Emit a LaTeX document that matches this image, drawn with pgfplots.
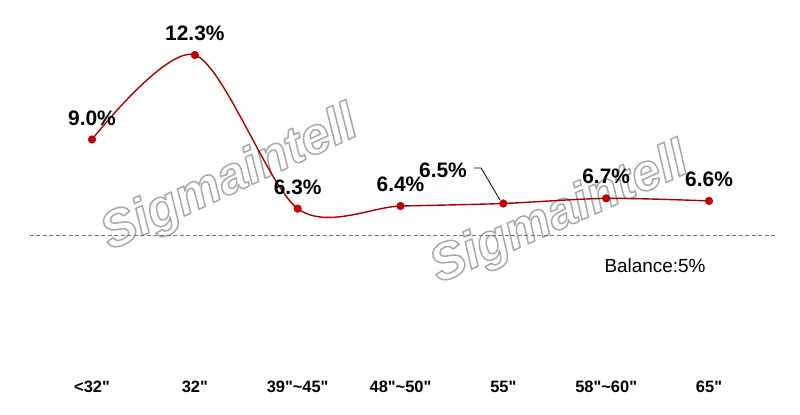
\documentclass[border=0pt]{standalone}
\usepackage{pgfplots}
\pgfplotsset{compat=1.18}
\usepackage{fontspec}
\setmainfont{Liberation Sans}[Ligatures=TeXOff]
\definecolor{linered}{HTML}{A50000}
\definecolor{markred}{HTML}{C80000}
\definecolor{wm}{HTML}{A8A8A8}
\newcommand{\qq}{\symbol{34}}
\begin{document}
\begin{tikzpicture}[x=1bp,y=1bp]
\path[use as bounding box] (0,0) rectangle (800,414);
\begin{axis}[at={(0,0)}, anchor=south west, scale only axis,
  width=800bp, height=414bp,
  xmin=-0.8947, xmax=6.8849, ymin=-1.723, ymax=14.448,
  axis line style={draw=none}, ytick=\empty,
  xtick={0,...,6},
  xticklabels={{<32\qq},{32\qq},{39\qq\textasciitilde45\qq},{48\qq\textasciitilde50\qq},{55\qq},{58\qq\textasciitilde60\qq},{65\qq}},
  major tick length=0pt,
  xticklabel style={anchor=center, yshift=27bp, font=\bfseries\fontsize{16.5}{18}\selectfont},
  clip=false]
% watermark
\node[rotate=25, text=wm, font=\bfseries\itshape\fontsize{52}{52}\selectfont]
  at (axis cs:1.342,7.417) {\special{pdf:literal direct 1 Tr 1.5 w}Sigmaintell\special{pdf:literal direct 0 Tr}};
\node[rotate=24, text=wm, font=\bfseries\itshape\fontsize{52}{52}\selectfont]
  at (axis cs:4.551,6.05) {\special{pdf:literal direct 1 Tr 1.5 w}Sigmaintell\special{pdf:literal direct 0 Tr}};
% balance line
\draw[color=black!55, dash pattern=on 4bp off 2.5bp, line width=0.9bp]
  (axis cs:-0.603,5.269) -- (axis cs:6.642,5.269);
\node[font=\fontsize{19}{20}\selectfont] at (axis cs:5.475,4.058) {Balance:5\%};
% main line
\addplot[color=linered, line width=1.4bp, smooth, tension=0.5,
  mark=*, mark size=3.8bp, mark options={fill=markred, draw=linered, line width=0.5bp}]
  table {
x y
0 9.0
1 12.3
2 6.3
3 6.4
4 6.5
5 6.7
6 6.6
};
% labels
\addplot[draw=none, mark=none, point meta=explicit symbolic,
  nodes near coords={\pgfplotspointmeta\%},
  every node near coord/.append style={anchor=south, inner sep=0pt, yshift=14bp,
    font=\bfseries\fontsize{21}{23}\selectfont, text=black}]
  table[meta=lab] {
x y lab
0 9.0 9.0
1 12.3 12.3
2 6.3 6.3
3 6.4 6.4
5 6.7 6.7
6 6.6 6.6
};
\node[font=\bfseries\fontsize{21}{23}\selectfont] at (axis cs:3.413,7.808) {6.5\%};
\draw[black, line width=0.8bp] (axis cs:3.715,7.886) -- (axis cs:3.783,7.886) -- (axis cs:3.968,6.636);
\end{axis}
\end{tikzpicture}
\end{document}
